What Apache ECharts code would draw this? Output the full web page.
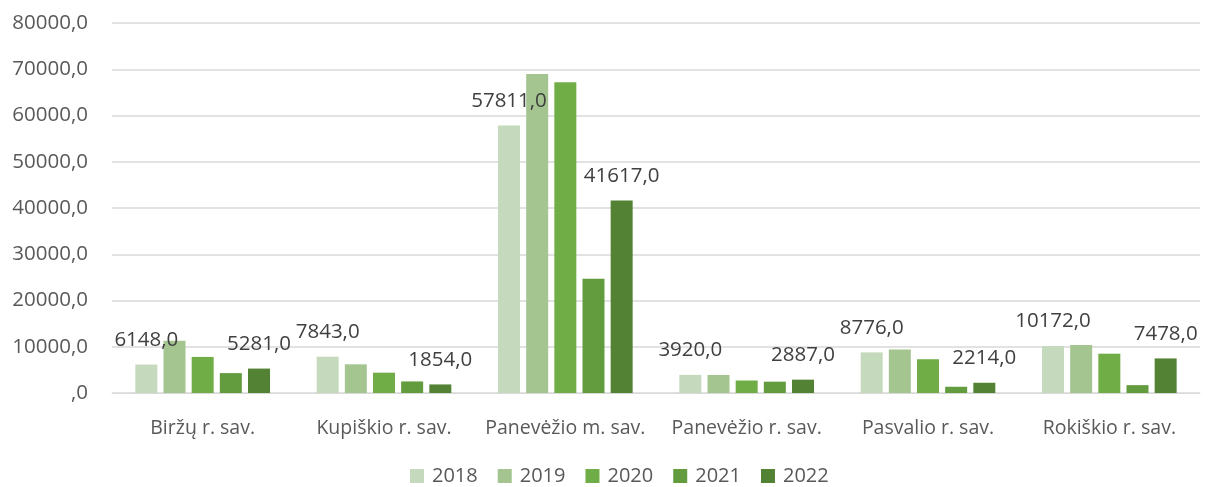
<!DOCTYPE html>
<html><head><meta charset="utf-8">
<script src="https://cdn.jsdelivr.net/npm/echarts@6/dist/echarts.min.js"></script>
<style>html,body{margin:0;padding:0;background:#fff}#c{width:1208px;height:487px}</style>
</head><body><div id="c"></div>
<script>
const categories = ['Biržų r. sav.', 'Kupiškio r. sav.', 'Panevėžio m. sav.', 'Panevėžio r. sav.', 'Pasvalio r. sav.', 'Rokiškio r. sav.'];
const years = ['2018', '2019', '2020', '2021', '2022'];
const v2018 = [6148, 7843, 57811, 3920, 8776, 10172];
const v2019 = [11300, 6200, 69000, 3900, 9400, 10400];
const v2020 = [7800, 4400, 67200, 2700, 7300, 8500];
const v2021 = [4300, 2500, 24700, 2450, 1350, 1700];
const v2022 = [5281, 1854, 41617, 2887, 2214, 7478];
const yTicks = { min: 0, max: 80000, interval: 10000 };
const colors = ['#c5d9bc', '#a5c590', '#70ad47', '#639b3f', '#548235'];
const labeled = [true, false, false, false, true];
const allData = [v2018, v2019, v2020, v2021, v2022];

const FONT = '"Open Sans", "Noto Sans", sans-serif';
function fmt(v) { return v === 0 ? ',0' : (v.toFixed(1).replace('.', ',')); }

const series = years.map((y, i) => ({
  name: y, type: 'bar', data: allData[i], barWidth: 22, barGap: '28%',
  itemStyle: { color: colors[i] },
  label: {
    show: labeled[i], position: 'top', distance: 14,
    color: '#404040', fontSize: 20.5, fontFamily: FONT,
    formatter: p => fmt(p.value)
  }
}));

const chart = echarts.init(document.getElementById('c'), null, { renderer: 'canvas' });
chart.setOption({
  animation: false,
  color: colors,
  grid: { left: 112, right: 8, top: 23, bottom: 94, containLabel: false },
  legend: {
    top: 461, left: 405, itemWidth: 14, itemHeight: 14, itemGap: 20,
    icon: 'rect',
    textStyle: { color: '#595959', fontSize: 20, fontFamily: FONT, padding: [0, 0, 0, 3] },
    data: years
  },
  xAxis: {
    type: 'category', data: categories,
    axisLine: { lineStyle: { color: '#d9d9d9', width: 1 } },
    axisTick: { show: false },
    axisLabel: { color: '#595959', fontSize: 19.5, fontFamily: FONT, margin: 25, interval: 0 }
  },
  yAxis: {
    type: 'value', min: yTicks.min, max: yTicks.max, interval: yTicks.interval,
    axisLine: { show: false }, axisTick: { show: false },
    splitLine: { lineStyle: { color: '#d9d9d9', width: 1.5 } },
    axisLabel: { color: '#595959', fontSize: 20.5, fontFamily: FONT, margin: 24, formatter: v => fmt(v) }
  },
  series: series
});
</script></body></html>
